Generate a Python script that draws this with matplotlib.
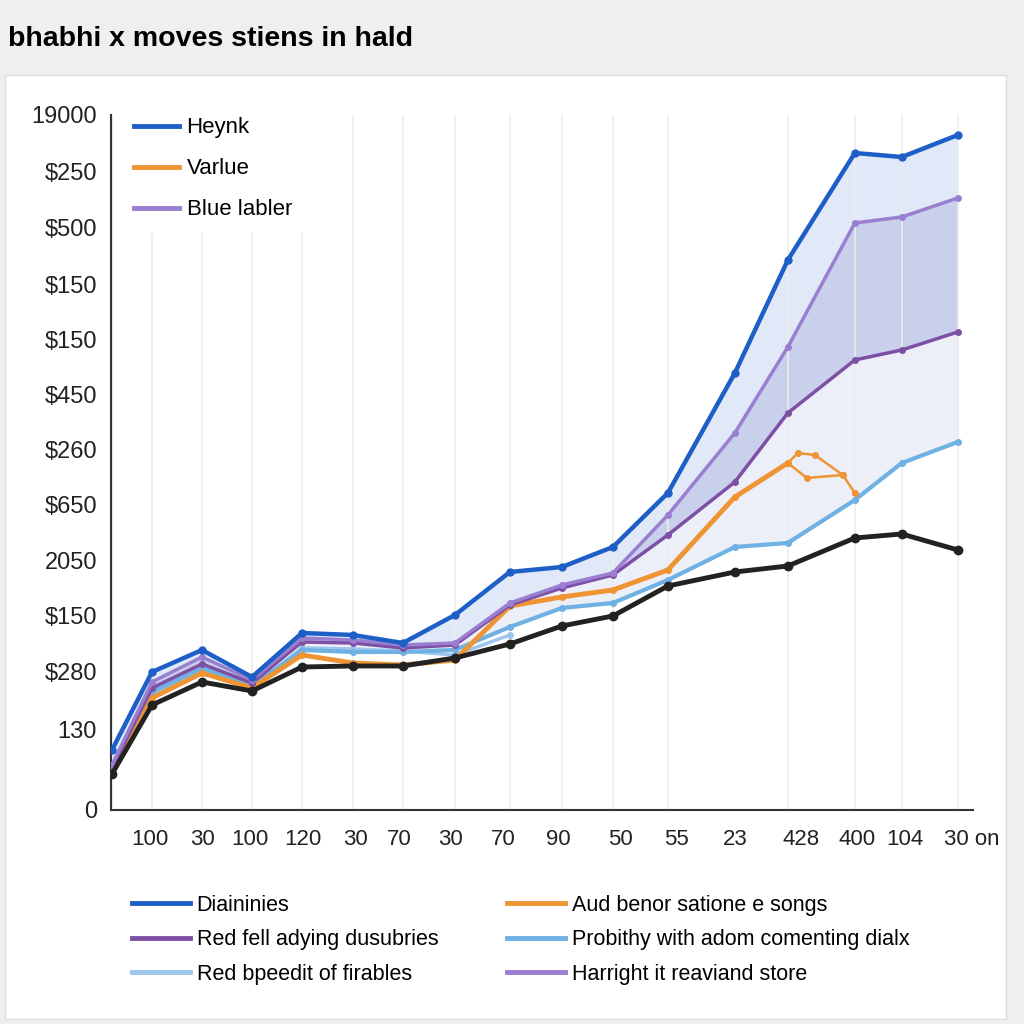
import matplotlib.pyplot as plt
import numpy as np
from matplotlib.patches import Rectangle
from matplotlib.lines import Line2D

# ---- data ----
x_vals = [1, 41, 91, 141, 191, 242, 292, 344, 399, 451, 502, 557, 624, 677, 744, 791, 847]
x_tick_pos = [39, 92, 139, 192, 245, 288, 340, 392, 447, 510, 566, 624, 690, 746, 794, 861]
x_tick_labels = ["100", "30", "100", "120", "30", "70", "30", "70", "90",
                 "50", "55", "23", "428", "400", "104", "30 on"]
y_tick_pos = [0, 80, 138, 194, 249, 305, 360, 415, 470, 525, 582, 638, 695]
y_tick_labels = ["0", "130", "$280", "$150", "2050", "$650", "$260", "$450",
                 "$150", "$150", "$500", "$250", "19000"]

blue = [60, 138, 160, 133, 177, 175, 167, 195, 238, 243, 263, 317, 437, 550, 657, 653, 675]
purple_up = [45, 128, 153, 130, 172, 170, 165, 167, 207, 225, 237, 295, 377, 463, 587, 593, 612]
purple_low = [42, 122, 146, 127, 168, 167, 162, 165, 205, 222, 235, 275, 328, 397, 450, 460, 478]
orange = [40, 112, 137, 122, 155, 147, 145, 150, 204, 213, 220, 240, 313, 347,
          np.nan, np.nan, np.nan]
light_blue = [40, 118, 142, 124, 160, 158, 158, 160, 183, 202, 207, 230, 263, 267, 310, 347, 368]
light_blue2 = [41, 114, 139, 121, 162, 161, 159, 155, 175, np.nan, np.nan, np.nan,
               np.nan, np.nan, np.nan, np.nan, np.nan]
black = [36, 105, 128, 119, 143, 144, 144, 152, 166, 184, 194, 224, 238, 244, 272, 276, 260]
orange_loop_x = [677, 687, 704, 732, 744]
orange_loop_y = [347, 357, 355, 335, 317]
orange_loop2_x = [677, 696, 732]
orange_loop2_y = [347, 332, 335]

c_blue = "#1d5fc6"
c_orange = "#ef9433"
c_purple = "#9a7fd1"
c_purple_dk = "#7d4fa5"
c_lblue = "#6fb1e2"
c_lblue2 = "#9cc6ec"
c_black = "#222222"

plt.rcParams["font.family"] = ["Liberation Sans", "DejaVu Sans"]

fig = plt.figure(figsize=(10.24, 10.24), dpi=100, facecolor="#eef0f0")
fig.add_artist(Rectangle((0.005, 0.005), 0.977, 0.922, transform=fig.transFigure,
                         facecolor="white", edgecolor="#dddddd", lw=1, zorder=-5))
fig.text(0.008, 0.962, "bhabhi x moves stiens in hald", fontsize=20.5, fontweight="bold",
         family=["Liberation Sans Narrow", "Liberation Sans"], va="center", ha="left")

ax = fig.add_axes([0.1084, 0.209, 0.8416, 0.6787])
ax.set_zorder(1)
ax.patch.set_alpha(0)
x = np.array(x_vals)

# shaded bands
ax.fill_between(x, blue, purple_up, color="#e1e8f7", lw=0, zorder=1)
ax.fill_between(x, purple_up, purple_low, color="#c8d0eb", lw=0, zorder=1)
ax.fill_between(x, purple_low, light_blue, color="#eceef8", lw=0, zorder=1)

mk = dict(marker="o", markersize=4)
ax.plot(x, light_blue2, color=c_lblue2, lw=2.5, zorder=3, **mk)
ax.plot(x, light_blue, color=c_lblue, lw=3, zorder=3, **mk)
ax.plot(x, orange, color=c_orange, lw=3.5, zorder=4, **mk)
ax.plot(orange_loop_x, orange_loop_y, color=c_orange, lw=1.8, zorder=4, **mk)
ax.plot(orange_loop2_x, orange_loop2_y, color=c_orange, lw=1.8, zorder=4, **mk)
ax.plot(x, purple_low, color=c_purple_dk, lw=2.5, zorder=5, **mk)
ax.plot(x, purple_up, color=c_purple, lw=2.5, zorder=5, **mk)
ax.plot(x, black, color=c_black, lw=3.5, zorder=6, marker="o", markersize=6)
ax.plot(x, blue, color=c_blue, lw=3.2, zorder=6, marker="o", markersize=5)

ax.set_xlim(0, 862)
ax.set_ylim(0, 695)
ax.set_xticks(x_tick_pos)
ax.set_xticklabels(x_tick_labels, fontsize=16, color="#222222")
ax.set_xticks(x_vals, minor=True)
ax.set_yticks(y_tick_pos)
ax.set_yticklabels(y_tick_labels, fontsize=17, color="#222222")
ax.tick_params(axis="both", which="both", length=0)
ax.tick_params(axis="x", pad=14)
ax.tick_params(axis="y", pad=10)
ax.grid(axis="x", which="minor", color="#ececec", lw=1.2, zorder=0)
for s in ["top", "right"]:
    ax.spines[s].set_visible(False)
for s in ["left", "bottom"]:
    ax.spines[s].set_color("#333333")
    ax.spines[s].set_linewidth(1.5)

top_handles = [Line2D([], [], color=c_blue, lw=3.5),
               Line2D([], [], color=c_orange, lw=3.5),
               Line2D([], [], color=c_purple, lw=3.5)]
leg = ax.legend(top_handles, ["Heynk", "Varlue", "Blue labler"], loc="upper left",
                bbox_to_anchor=(0.0, 1.03), fontsize=16, frameon=True, framealpha=1,
                edgecolor="none", facecolor="white", handlelength=2.0,
                handletextpad=0.35, labelspacing=0.9, borderpad=0.55)
leg.set_zorder(10)

bottom_handles = [Line2D([], [], color=c_blue, lw=3.5),
                  Line2D([], [], color=c_purple_dk, lw=3.5),
                  Line2D([], [], color=c_lblue2, lw=3.5),
                  Line2D([], [], color=c_orange, lw=3.5),
                  Line2D([], [], color=c_lblue, lw=3.5),
                  Line2D([], [], color=c_purple, lw=3.5)]
bottom_labels = ["Diaininies", "Red fell adying dusubries", "Red bpeedit of firables",
                 "Aud benor satione e songs", "Probithy with adom comenting dialx",
                 "Harright it reaviand store"]
fig.legend(bottom_handles, bottom_labels, ncol=2, loc="upper left",
           bbox_to_anchor=(0.11, 0.145), fontsize=15.5, frameon=False,
           handlelength=2.7, handletextpad=0.3, columnspacing=3.2, labelspacing=0.62)

fig.savefig("out.png", dpi=100, facecolor=fig.get_facecolor())
